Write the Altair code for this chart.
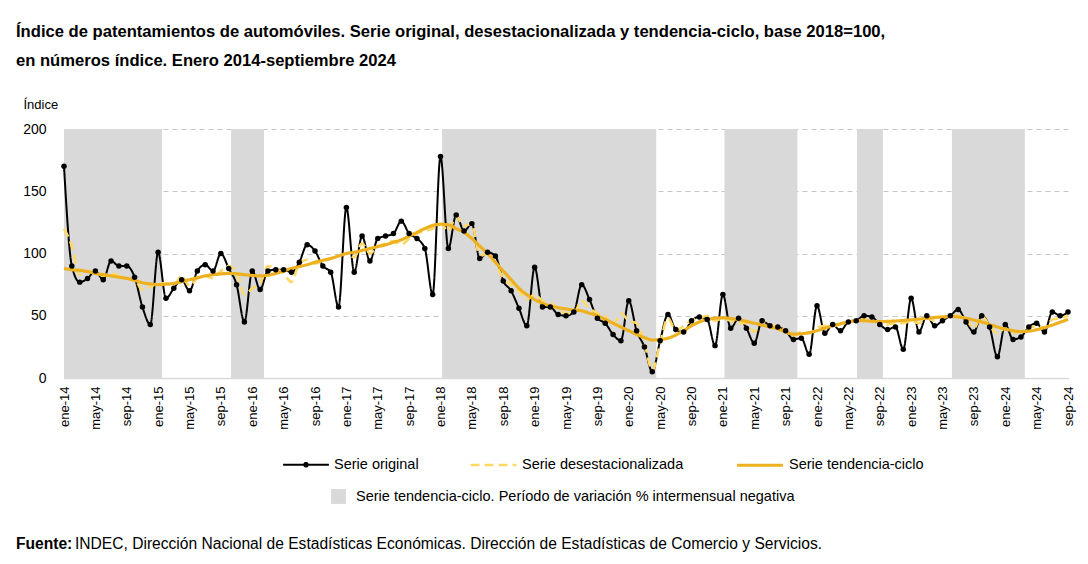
import altair as alt
import pandas as pd

# ---- data (monthly, Jan 2014 = 0 ... Sep 2024 = 128) ----
tick_labels = [f"{m}-{y}" for y in range(14, 25) for m in ("ene", "may", "sep")]

original = [170, 90, 77, 80, 86, 79, 94, 90, 90, 81, 57, 43,
            101, 64, 72, 79, 70, 86, 91, 86, 100, 88, 75, 45,
            86, 71, 86, 87, 87, 85, 93, 107, 102, 90, 85, 57,
            137, 85, 114, 94, 112, 114, 116, 126, 116, 112, 104, 67,
            178, 104, 131, 118, 124, 96, 101, 98, 78, 70, 56, 42,
            89, 57, 57, 51, 50, 53, 75, 63, 48, 44, 35, 30,
            62, 38, 25, 5, 30, 51, 39, 37, 46, 49, 47, 26,
            67, 40, 48, 40, 28, 46, 42, 41, 38, 31, 32, 19,
            58, 36, 43, 38, 45, 46, 50, 49, 43, 39, 41, 23,
            64, 37, 50, 42, 46, 50, 55, 45, 37, 50, 41, 17,
            43, 31, 33, 41, 44, 37, 53, 50, 53]

desestacionalizada = [120, 106, 83, 86, 85, 82, 84, 82, 80, 79, 71, 73,
                      76, 76, 75, 82, 74, 80, 82, 80, 86, 90, 86, 67,
                      72, 76, 90, 88, 84, 77, 92, 95, 92, 94, 96, 98,
                      100, 97, 108, 100, 106, 108, 110, 107, 112, 116, 118, 120,
                      124, 118, 130, 122, 124, 98, 100, 92, 80, 75, 70, 63,
                      67, 62, 60, 56, 52, 52, 62, 56, 52, 50, 42, 52,
                      46, 44, 28, 6, 28, 48, 38, 42, 46, 48, 50, 46,
                      48, 46, 44, 44, 37, 46, 42, 42, 38, 33, 37, 36,
                      40, 42, 42, 43, 45, 46, 47, 46, 44, 43, 44, 44,
                      46, 44, 48, 46, 48, 50, 50, 47, 40, 50, 42, 36,
                      40, 36, 38, 40, 42, 40, 47, 48, 50]

tendencia = [88, 87, 86.5, 85.5, 84, 83, 82, 81, 80, 78.5, 76.5, 75.6,
             75, 75.3, 76, 77.5, 79, 80.5, 82, 83, 83.6, 84, 83.7, 83,
             82.4, 82, 82.6, 84, 86, 88, 89.5, 91, 93, 94.5, 96, 98,
             100, 101, 102.5, 104, 105.5, 107, 109, 111, 114, 117, 120, 122.5,
             123.5, 123, 120, 117, 112, 106, 100, 93, 86, 79, 72, 67,
             63, 60, 58, 56.5, 55.5, 54.5, 54, 52, 50, 47, 44, 41,
             38, 35, 32.5, 30.5, 30.8, 32, 34.5, 38, 42, 45, 47, 48,
             48.3, 47.8, 46.8, 45.5, 44, 42.5, 41, 39.5, 37, 35.3, 35.5, 36.5,
             38, 40, 42, 43.6, 45, 46.2, 46, 45.6, 45.3, 45.5, 45.8, 46.2,
             46.7, 47.3, 48, 48.6, 49.1, 49.4, 49, 48, 46.5, 45, 43, 41,
             39.3, 38, 37.3, 37.6, 38.8, 40.5, 42.5, 44.8, 47]

shade_start = [0, 21.3, 48.2, 84.2, 101.1, 113.2]
shade_end = [12.5, 25.5, 75.5, 93.5, 104.4, 122.5]

series_names = ["Serie original", "Serie desestacionalizada", "Serie tendencia-ciclo"]
shade_name = "Serie tendencia-ciclo. Período de variación % intermensual negativa"

title_lines = ["Índice de patentamientos de automóviles. Serie original, desestacionalizada y tendencia-ciclo, base 2018=100,",
               "en números índice. Enero 2014-septiembre 2024"]
source_bold = "Fuente:"
source_text = "INDEC, Dirección Nacional de Estadísticas Económicas. Dirección de Estadísticas de Comercio y Servicios."

assert len(original) == len(desestacionalizada) == len(tendencia) == 129

# ---- tables ----
n = len(original)
rows = []
for name, vals in zip(series_names, [original, desestacionalizada, tendencia]):
    for i, v in enumerate(vals):
        rows.append({"mes": i, "serie": name, "valor": v})
df = pd.DataFrame(rows)
shade_df = pd.DataFrame({"inicio": shade_start, "fin": shade_end, "tipo": [shade_name] * len(shade_start)})

W, H = 1004, 249
FONT = "Liberation Sans, Arial, sans-serif"

label_js = "[" + ",".join(f'"{t}"' for t in tick_labels) + "]"
x_scale = alt.Scale(domain=[0, n - 1], nice=False, zero=False)
x_axis = alt.Axis(values=list(range(0, n, 4)), labelExpr=f"{label_js}[round(datum.value/4)]",
                  labelAngle=270, labelAlign="right", labelBaseline="middle",
                  labelFont=FONT, labelFontSize=13, labelColor="#000", labelPadding=8,
                  ticks=False, grid=False, domainColor="#d9d9d9", domainWidth=1.5,
                  title=None, labelOverlap=False, labelFlush=False, labelBound=False)

y_scale = alt.Scale(domain=[0, 200], nice=False)
y_axis = alt.Axis(values=[0, 50, 100, 150, 200], grid=True, gridDash=[5, 4], gridColor="#c6c6c6",
                  domain=False, ticks=False, labelFont=FONT, labelFontSize=14, labelColor="#000",
                  labelPadding=18, title="Índice", titleAngle=0, titleAlign="left",
                  titleBaseline="alphabetic", titleX=-41, titleY=-21, titleFont=FONT,
                  titleFontSize=13, titleFontWeight="normal", titleColor="#000")

shade = alt.Chart(shade_df).mark_rect(opacity=1).encode(
    x=alt.X("inicio:Q", scale=x_scale, axis=x_axis),
    x2="fin:Q",
    fill=alt.Fill("tipo:N", scale=alt.Scale(domain=[shade_name], range=["#d9d9d9"]),
                  legend=alt.Legend(title=None, orient="none", legendX=266, legendY=359,
                                    symbolType="square", symbolSize=220, symbolFillColor="#bfbfbf",
                                    labelFont=FONT, labelFontSize=14.5, labelColor="#000",
                                    labelOffset=9, labelLimit=700))
)

stroke_scale = alt.Scale(domain=series_names, range=["#000000", "#FFD966", "#EDB120"])
dash_scale = alt.Scale(domain=series_names, range=[[1, 0], [9, 5], [1, 0]])
width_scale = alt.Scale(domain=series_names, range=[2, 3.2, 3.8])

orig_symbol = "M-1,0H1M-0.08,0a0.08,0.08 0 1,0 0.16,0a0.08,0.08 0 1,0 -0.16,0"
symbol_expr = f"datum.value === 'Serie original' ? '{orig_symbol}' : 'stroke'"
line_legend = alt.Legend(title=None, orient="none", direction="horizontal",
                         legendX=218, legendY=311, symbolType=alt.ExprRef(expr=symbol_expr),
                         symbolSize=2100, symbolStrokeWidth=3.5, labelFont=FONT,
                         labelFontSize=14.5, labelColor="#000", labelOffset=4,
                         columnPadding=46, labelLimit=300)

lines = alt.Chart(df).mark_line(interpolate="monotone").encode(
    x=alt.X("mes:Q", scale=x_scale, axis=x_axis),
    y=alt.Y("valor:Q", scale=y_scale, axis=y_axis),
    stroke=alt.Stroke("serie:N", scale=stroke_scale, sort=series_names, legend=line_legend),
    strokeDash=alt.StrokeDash("serie:N", scale=dash_scale, sort=series_names, legend=line_legend),
    strokeWidth=alt.StrokeWidth("serie:N", scale=width_scale, legend=None),
    order=alt.Order("mes:Q"),
)

points = alt.Chart(df).transform_filter(alt.datum.serie == "Serie original").mark_circle(
    size=30, color="#000", opacity=1).encode(
    x=alt.X("mes:Q", scale=x_scale, axis=x_axis), y=alt.Y("valor:Q", scale=y_scale, axis=y_axis))

src_df = pd.DataFrame({"a": [source_bold], "b": [source_text]})
src_bold = alt.Chart(src_df).mark_text(align="left", baseline="alphabetic", font=FONT, fontSize=15.6,
                                       fontWeight="bold", color="#000").encode(
    text="a:N", x=alt.value(-48), y=alt.value(420))
src_rest = alt.Chart(src_df).mark_text(align="left", baseline="alphabetic", font=FONT, fontSize=15.6,
                                       color="#000").encode(
    text="b:N", x=alt.value(11), y=alt.value(420))

chart = alt.layer(shade, lines, points, src_bold, src_rest).properties(
    width=W, height=H,
    autosize=alt.AutoSizeParams(type="none"),
    padding={"left": 56, "top": 121, "right": 10, "bottom": 180},
    title=alt.TitleParams(text=title_lines, font=FONT, fontSize=16.6, fontWeight="bold",
                          color="#000", anchor="start", frame="group", dx=-48, offset=28,
                          lineHeight=29),
).configure_view(stroke=None)

chart.save("out.html", embed_options={"renderer": "svg", "actions": False})
